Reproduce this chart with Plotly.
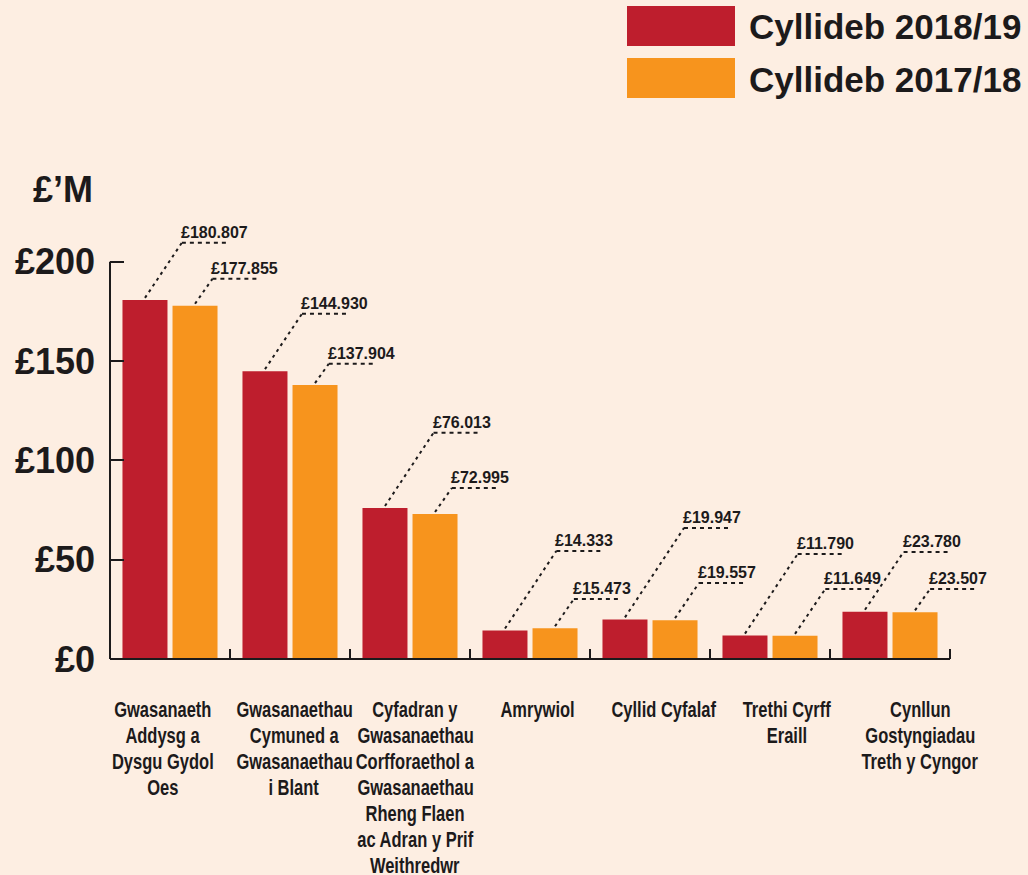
import json
import plotly.graph_objects as go

# ---- data -------------------------------------------------------------
categories = [
    "Gwasanaeth<br>Addysg a<br>Dysgu Gydol<br>Oes",
    "Gwasanaethau<br>Cymuned a<br>Gwasanaethau<br>i Blant",
    "Cyfadran y<br>Gwasanaethau<br>Corfforaethol a<br>Gwasanaethau<br>Rheng Flaen<br>ac Adran y Prif<br>Weithredwr",
    "Amrywiol",
    "Cyllid Cyfalaf",
    "Trethi Cyrff<br>Eraill",
    "Cynllun<br>Gostyngiadau<br>Treth y Cyngor",
]
series_names = ["Cyllideb 2018/19", "Cyllideb 2017/18"]
budget_2018_19 = [180.807, 144.930, 76.013, 14.333, 19.947, 11.790, 23.780]
budget_2017_18 = [177.855, 137.904, 72.995, 15.473, 19.557, 11.649, 23.507]
y_tick_values = [0, 50, 100, 150, 200]
y_tick_labels = ["£0", "£50", "£100", "£150", "£200"]

# ---- layout helpers ---------------------------------------------------
# height (in £M) at which each callout leader turns horizontal
callout_level_2018 = [209.6, 173.8, 113.9, 54.4, 66.0, 52.9, 53.9]
callout_level_2017 = [191.4, 148.6, 86.1, 30.2, 38.3, 35.3, 35.3]
label_nudge_px = [-7, 4, 5, 7, 14, 17, 30]

W, H = 1028, 875
M_L, M_R, M_T, M_B = 110, 30, 232, 216
X_RANGE = [-0.5, len(categories) - 0.1]
Y_RANGE = [0, 215]
PLOT_W = W - M_L - M_R
PLOT_H = H - M_T - M_B
PX_PER_X = PLOT_W / (X_RANGE[1] - X_RANGE[0])
PX_PER_Y = PLOT_H / (Y_RANGE[1] - Y_RANGE[0])

BG = "#FDEEE2"
INK = "#1c1a1b"
RED = "#BE1E2D"
ORANGE = "#F7941D"
BAR_W = 0.375
OFFSETS = [-0.396, 0.021]
LEADER_SLOPE = 1.55      # rise / run in pixels
SHELF_PX = 48            # length of the horizontal part of a callout
LINE_PX = 26             # line pitch of the category labels
CONDENSE = 0.75          # horizontal squeeze for the category labels

BOLD = "Liberation Sans, Arial, Helvetica, sans-serif"


def paper_x(px):
    return (px - M_L) / PLOT_W


def paper_y(py):
    return (H - M_B - py) / PLOT_H


x_pos = list(range(len(categories)))

fig = go.Figure()
for name, vals, color, off in zip(series_names,
                                  [budget_2018_19, budget_2017_18],
                                  [RED, ORANGE], OFFSETS):
    fig.add_trace(go.Bar(
        x=x_pos, y=vals, name=name, width=BAR_W, offset=off,
        marker=dict(color=color, line=dict(width=0)),
        showlegend=False, hoverinfo="y",
    ))

shapes = []
annotations = []

# callouts: dotted leader from the bar top, dashed shelf, value label
for vals, levels, off in [(budget_2018_19, callout_level_2018, OFFSETS[0]),
                          (budget_2017_18, callout_level_2017, OFFSETS[1])]:
    for i, (v, lev) in enumerate(zip(vals, levels)):
        cx = i + off + BAR_W / 2
        kx = cx + (lev - v) * PX_PER_Y / LEADER_SLOPE / PX_PER_X
        ex = kx + SHELF_PX / PX_PER_X
        shapes.append(dict(type="line", xref="x", yref="y",
                           x0=cx, y0=v + 1, x1=kx, y1=lev,
                           line=dict(color=INK, width=2, dash="3px,4px")))
        shapes.append(dict(type="line", xref="x", yref="y",
                           x0=kx, y0=lev, x1=ex, y1=lev,
                           line=dict(color=INK, width=2, dash="4px,4px")))
        annotations.append(dict(
            x=kx, y=lev, xref="x", yref="y", xanchor="left", yanchor="bottom",
            xshift=-3, yshift=0, showarrow=False, text=f"£{v:.3f}",
            font=dict(family=BOLD, size=16, color=INK, weight=700)))

# category labels under the axis, one annotation per line
condensed_idx = []
for i, (lab, nudge) in enumerate(zip(categories, label_nudge_px)):
    for k, line in enumerate(lab.split("<br>")):
        condensed_idx.append(len(annotations))
        annotations.append(dict(
            x=i, y=0, xref="x", yref="y", xanchor="center", yanchor="top",
            xshift=nudge, yshift=-37 - k * LINE_PX, showarrow=False,
            borderpad=0, text=line,
            font=dict(family=BOLD, size=22, color=INK, weight=700)))

# axis lines
shapes.append(dict(type="line", xref="paper", yref="y", x0=0, x1=0,
                   y0=0, y1=y_tick_values[-1], line=dict(color=INK, width=2)))
shapes.append(dict(type="line", xref="x", yref="paper", x0=-0.5,
                   x1=len(categories) - 0.5, y0=0, y1=0,
                   line=dict(color=INK, width=2)))

# unit label
annotations.append(dict(
    x=paper_x(95), y=paper_y(189), xref="paper", yref="paper",
    xanchor="right", yanchor="middle", showarrow=False, text="£’M",
    font=dict(family=BOLD, size=36, color=INK, weight=700)))

# legend: large swatches with headings
for k, (name, color) in enumerate(zip(series_names, [RED, ORANGE])):
    top = 6 + k * 52
    shapes.append(dict(type="rect", xref="paper", yref="paper",
                       x0=paper_x(627), x1=paper_x(735),
                       y0=paper_y(top + 40), y1=paper_y(top),
                       fillcolor=color, line=dict(width=0)))
    annotations.append(dict(
        x=paper_x(747), y=paper_y(top + 21), xref="paper", yref="paper",
        xanchor="left", yanchor="middle", showarrow=False, text=name,
        font=dict(family=BOLD, size=35, color=INK, weight=700)))

fig.update_layout(
    width=W, height=H,
    margin=dict(l=M_L, r=M_R, t=M_T, b=M_B, pad=0),
    paper_bgcolor=BG, plot_bgcolor=BG,
    barmode="overlay",
    shapes=shapes, annotations=annotations,
    xaxis=dict(range=X_RANGE, showgrid=False, zeroline=False, showline=False,
               tickmode="array",
               tickvals=[i - 0.5 for i in range(len(categories) + 1)],
               ticks="inside", ticklen=10, tickwidth=2, tickcolor=INK,
               showticklabels=False, fixedrange=True),
    yaxis=dict(range=Y_RANGE, showgrid=False, zeroline=False, showline=False,
               tickmode="array", tickvals=y_tick_values, ticktext=y_tick_labels,
               ticks="inside", ticklen=14, tickwidth=2, tickcolor=INK,
               ticklabelstandoff=14,
               tickfont=dict(family=BOLD, size=36, color=INK, weight=700),
               fixedrange=True),
)

# condensed face for the category labels: squeeze the glyphs horizontally
# and shrink each label's (transparent) box to match
squeeze_js = """
(function () {
  var gd = document.getElementById('{plot_id}');
  var idx = %s;
  var factor = %s;
  function squeeze() {
    idx.forEach(function (i) {
      var g = gd.querySelector('g.annotation[data-index="' + i + '"]');
      if (!g) return;
      var t = g.querySelector('text.annotation-text');
      if (!t || t.getAttribute('data-squeezed')) return;
      var w = t.getComputedTextLength();
      t.setAttribute('lengthAdjust', 'spacingAndGlyphs');
      t.setAttribute('textLength', (w * factor).toFixed(2));
      t.setAttribute('data-squeezed', '1');
      var r = g.querySelector('rect.bg');
      if (r) {
        var rw = parseFloat(r.getAttribute('width')) || 0;
        var rx = parseFloat(r.getAttribute('x')) || 0;
        var nw = rw - w * (1 - factor);
        r.setAttribute('x', (rx + (rw - nw) / 2).toFixed(2));
        r.setAttribute('width', nw.toFixed(2));
      }
    });
  }
  squeeze();
  if (gd.on) gd.on('plotly_afterplot', squeeze);
  setTimeout(squeeze, 50);
})();
""" % (json.dumps(condensed_idx), CONDENSE)

fig.write_html("out.html", post_script=squeeze_js)
